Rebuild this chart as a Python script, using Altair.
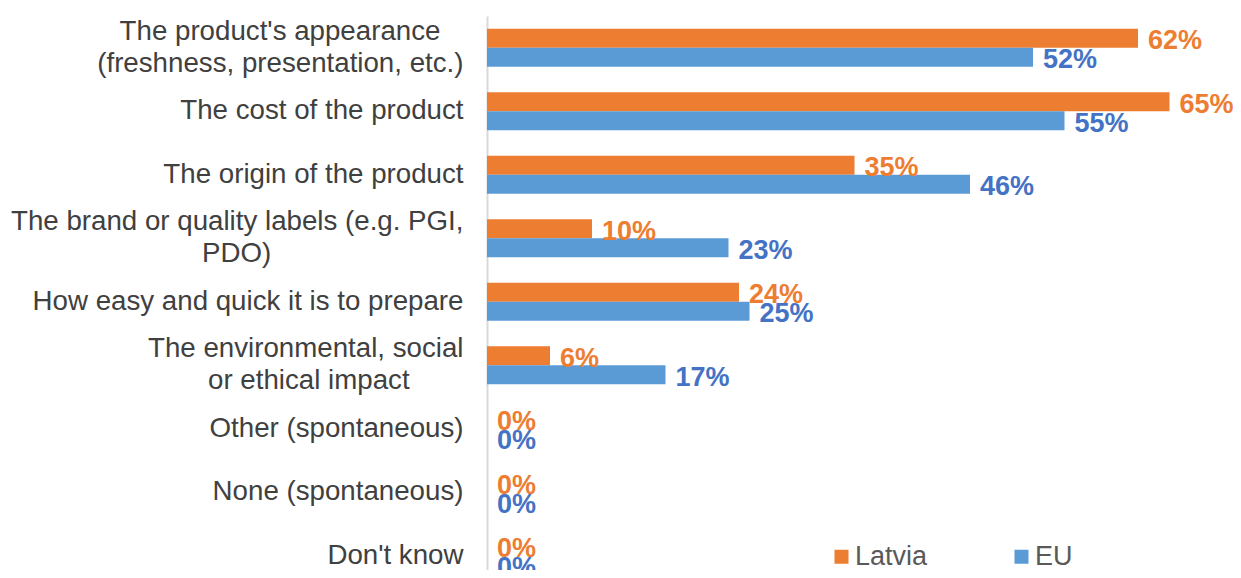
import json
import altair as alt
import pandas as pd

# ---- data ----
categories = [
    "The product's appearance (freshness, presentation, etc.)",
    "The cost of the product",
    "The origin of the product",
    "The brand or quality labels (e.g. PGI, PDO)",
    "How easy and quick it is to prepare",
    "The environmental, social or ethical impact",
    "Other (spontaneous)",
    "None (spontaneous)",
    "Don't know",
]
# how each label is wrapped
label_lines = [
    ["The product's appearance", "(freshness, presentation, etc.)"],
    ["The cost of the product"],
    ["The origin of the product"],
    ["The brand or quality labels (e.g. PGI,", "PDO)"],
    ["How easy and quick it is to prepare"],
    ["The environmental, social", "or ethical impact"],
    ["Other (spontaneous)"],
    ["None (spontaneous)"],
    ["Don't know"],
]
series = ["Latvia", "EU"]
latvia = [62, 65, 35, 10, 24, 6, 0, 0, 0]
eu = [52, 55, 46, 23, 25, 17, 0, 0, 0]

# style: trailing non-breaking spaces so that short wrapped lines sit centred
line_pad = [[3, 0], [0], [0], [0, 25], [0], [0, 7], [0], [0], [0]]

ORANGE = "#ED7D31"
BLUE = "#5B9BD5"
BLUE_TXT = "#4472C4"
FONT = "Liberation Sans"


def fmt_line(text, pad):
    return text + ("\u00a0" * pad + "\u200b" if pad else "")


label_map = {
    c: [fmt_line(l, p) for l, p in zip(label_lines[i], line_pad[i])]
    for i, c in enumerate(categories)
}
two_line = [c for i, c in enumerate(categories) if len(label_lines[i]) > 1]

rows = []
for i, c in enumerate(categories):
    rows.append({"category": c, "series": "Latvia", "value": latvia[i] / 100})
    rows.append({"category": c, "series": "EU", "value": eu[i] / 100})
df = pd.DataFrame(rows)

y_enc = alt.Y(
    "category:N",
    sort=categories,
    scale=alt.Scale(range=[0, 571.5], paddingInner=0.4, paddingOuter=0.2),
    axis=alt.Axis(
        title=None,
        ticks=False,
        grid=False,
        domainColor="#D9D9D9",
        domainWidth=2,
        labelFont=FONT,
        labelFontSize=27.7,
        labelColor="#404040",
        labelPadding=24,
        labelLimit=0,
        labelLineHeight=32,
        labelAlign="right",
        labelBaseline={
            "condition": {"test": f"indexof({json.dumps(two_line)}, datum.value) >= 0",
                          "value": "line-bottom"},
            "value": "middle",
        },
        labelExpr=f"{json.dumps(label_map)}[datum.value]",
    ),
)
yoff = alt.YOffset("series:N", sort=series, scale=alt.Scale(domain=series, paddingInner=0, paddingOuter=0))
x_enc = alt.X("value:Q", scale=alt.Scale(domain=[0, 0.7]), axis=None)

bars = alt.Chart(df).mark_bar().encode(
    y=y_enc,
    yOffset=yoff,
    x=x_enc,
    color=alt.Color(
        "series:N",
        sort=series,
        scale=alt.Scale(domain=series, range=[ORANGE, BLUE]),
        legend=alt.Legend(
            title=None,
            orient="none",
            legendX=341,
            legendY=527,
            direction="horizontal",
            symbolType="square",
            symbolSize=196,
            symbolStrokeWidth=0,
            labelFont=FONT,
            labelFontSize=27,
            labelColor="#595959",
            labelOffset=0,
            columnPadding=80,
            padding=0,
        ),
    ),
)

texts = alt.Chart(df).mark_text(
    align="left", baseline="middle", dx=10, dy=3, font=FONT, fontSize=27, fontWeight="bold"
).encode(
    y=y_enc,
    yOffset=yoff,
    x=x_enc,
    text=alt.Text("value:Q", format=".0%"),
    color=alt.condition("datum.series == 'Latvia'", alt.value(ORANGE), alt.value(BLUE_TXT)),
)

chart = (
    alt.layer(bars, texts)
    .properties(
        width=735,
        height=554,
        autosize=alt.AutoSizeParams(type="none"),
        padding={"left": 479, "top": 8, "right": 11, "bottom": 0},
    )
    .configure_view(stroke=None)
)

chart.save("out.html", embed_options={"renderer": "svg", "actions": False})
